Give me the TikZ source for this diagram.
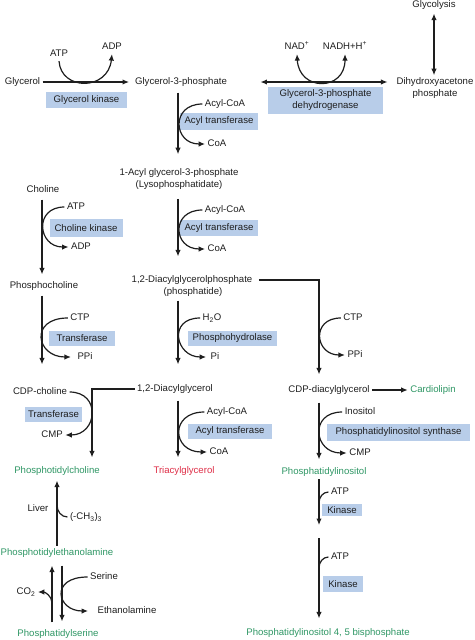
\documentclass[tikz,border=0pt]{standalone}
\usepackage{fontspec}
\setmainfont{Liberation Sans}
\usetikzlibrary{arrows.meta}
\definecolor{boxblue}{RGB}{184,205,233}
\definecolor{lipgreen}{RGB}{46,150,100}
\definecolor{lipred}{RGB}{222,45,70}
\definecolor{ink}{RGB}{30,30,30}
\newcommand{\diagfont}{\fontsize{9.6}{11.4}\selectfont}

\begin{document}
\begin{tikzpicture}[ -, x=1pt, y=-1pt, color=ink, line width=1.2pt,
                    main/.style = {font=\diagfont, text=ink, inner sep=2pt, text height=7pt, text depth=2pt},
                    two/.style = {font=\diagfont, text=ink, inner sep=2pt, align=center},
                    enz/.style = {font=\diagfont, text=ink, fill=boxblue, align=center, inner sep=0pt},
                    prod/.style = {main, text=lipgreen},
                    arr/.style = {-{Latex[length=6.5pt,width=5.5pt]}},
                    darr/.style = {{Latex[length=6.5pt,width=5.5pt]}-{Latex[length=6.5pt,width=5.5pt]}}]
\useasboundingbox (0,0) rectangle (474,640);
\coordinate (colA) at (42,0);
\coordinate (colB) at (178,0);
\coordinate (colC) at (319,0);
\coordinate (colD) at (92,0);
\coordinate (colL) at (52,0);
\coordinate (colR) at (62,0);
\coordinate (pip) at (319,531);
\coordinate (k1h) at (319,503);
\coordinate (k2h) at (319,568);
\coordinate (peh) at (57,505);
\coordinate (psh) at (52,603);
\node[main] (gly) at (22.5,82) {Glycerol};
\node[main] (g3p) at (181,82) {Glycerol-3-phosphate};
\node[two] (dhap) at (435,88) {Dihydroxyacetone\\phosphate};
\node[main] (glyc) at (434,5) {Glycolysis};
\node[main] (atp1) at (59,54) {ATP};
\node[main] (adp1) at (112,47) {ADP};
\node[enz, minimum width=81pt, minimum height=16pt] (gk) at (86.5,100) {Glycerol kinase};
\node[main] (nad) at (297,47) {NAD\textsuperscript{+}};
\node[main] (nadh) at (345,47) {NADH+H\textsuperscript{+}};
\node[enz, minimum width=115pt, minimum height=27pt] (gpdh) at (325.5,100) {Glycerol-3-phosphate\\dehydrogenase};
\node[main] (acoa1) at (225,104) {Acyl-CoA};
\node[enz, minimum width=78pt, minimum height=17pt] (at1) at (219,121) {Acyl transferase};
\node[main] (coa1) at (217,144) {CoA};
\node[two] (lyso) at (179,179) {1-Acyl glycerol-3-phosphate\\(Lysophosphatidate)};
\node[main] (acoa2) at (225,210) {Acyl-CoA};
\node[enz, minimum width=78pt, minimum height=16pt] (at2) at (219,228) {Acyl transferase};
\node[main] (coa2) at (217,249) {CoA};
\node[main] (pa) at (192,280) {1,2-Diacylglycerolphosphate};
\node[main] (pa2) at (193,292) {(phosphatide)};
\node[main] (h2o) at (212,318) {H\textsubscript{2}O};
\node[enz, minimum width=89pt, minimum height=15pt] (phh) at (232.5,338) {Phosphohydrolase};
\node[main] (pi1) at (215,357) {Pi};
\node[main] (dag) at (175,389) {1,2-Diacylglycerol};
\node[main] (acoa3) at (227,412) {Acyl-CoA};
\node[enz, minimum width=84pt, minimum height=15pt] (at3) at (230,431) {Acyl transferase};
\node[main] (coa3) at (219,452) {CoA};
\node[main, text=lipred] (tag) at (184,471) {Triacylglycerol};
\node[main] (cho) at (43,190) {Choline};
\node[main] (atp2) at (76,207) {ATP};
\node[enz, minimum width=73pt, minimum height=18pt] (ck) at (86,228) {Choline kinase};
\node[main] (adp2) at (81,247) {ADP};
\node[main] (phc) at (44,286) {Phosphocholine};
\node[main] (ctp1) at (80,318) {CTP};
\node[enz, minimum width=66pt, minimum height=15pt] (tf1) at (82,338) {Transferase};
\node[main] (ppi1) at (85,357) {PPi};
\node[main] (cdpc) at (40,392) {CDP-choline};
\node[enz, minimum width=57pt, minimum height=15pt] (tf2) at (53.5,414) {Transferase};
\node[main] (cmp1) at (52,435) {CMP};
\node[prod] (pc) at (57,471) {Phosphotidylcholine};
\node[main] (ctp2) at (353,318) {CTP};
\node[main] (ppi2) at (355,355) {PPi};
\node[main] (cdpdag) at (329,390) {CDP-diacylglycerol};
\node[prod] (card) at (433,390) {Cardiolipin};
\node[main] (inos) at (360,412) {Inositol};
\node[enz, minimum width=143pt, minimum height=17pt] (pis) at (398.5,432) {Phosphatidylinositol synthase};
\node[main] (cmp2) at (360,453) {CMP};
\node[prod] (pino) at (324,472) {Phosphatidylinositol};
\node[main] (atp3) at (340,492) {ATP};
\node[enz, minimum width=40pt, minimum height=12pt] (kin1) at (342,510) {Kinase};
\node[main] (atp4) at (340,557) {ATP};
\node[enz, minimum width=40pt, minimum height=16pt] (kin2) at (343,584) {Kinase};
\node[prod] (pip2) at (328,633) {Phosphatidylinositol 4, 5 bisphosphate};
\node[prod] (pe) at (57,553) {Phosphotidylethanolamine};
\node[main] (liver) at (38,509) {Liver};
\node[main] (ch3) at (86,517) {(-CH\textsubscript{3})\textsubscript{3}};
\node[main] (co2) at (26,592) {CO\textsubscript{2}};
\node[main] (ser) at (104,577) {Serine};
\node[main] (eth) at (127,611) {Ethanolamine};
\node[prod] (ps) at (58,634) {Phosphatidylserine};
\draw[arr, shorten >=3.5pt] (gly) -- (g3p);
\draw[arr] (atp1.south) .. controls (61,91) and (108,91) .. (adp1.south);
\draw[darr, shorten <=31pt, shorten >=6.5pt] (g3p.east) -- (dhap.west |- g3p.east);
\draw[darr] (nad.south) .. controls (299,91.5) and (345,91.5) .. (nadh.south);
\draw[darr, shorten <=1.5pt] (glyc) -- (dhap.north -| glyc);
\draw[arr, shorten <=3.5pt, shorten >=12pt] (g3p.south -| colB) -- (lyso.north -| colB);
\draw[arr] (acoa1.west) to[out=180, in=180, looseness=2.04] (coa1.west);
\draw[arr, shorten <=7pt, shorten >=16.5pt] (lyso.south -| colB) -- (pa.north -| colB);
\draw[arr] (acoa2.west) to[out=180, in=180, looseness=2.1] (coa2.west);
\draw[arr, shorten <=1.5pt, shorten >=17.5pt] (pa2.south -| colB) -- (dag.north -| colB);
\draw[arr, shorten >=2pt] (h2o.west) to[out=180, in=180, looseness=2.1] (pi1.west);
\draw[arr, shorten <=4.5pt, shorten >=6.5pt] (dag.south -| colB) -- (tag.north -| colB);
\draw[arr] (acoa3.west) to[out=180, in=180, looseness=2.24] (coa3.west);
\draw[arr, shorten <=2.5pt, shorten >=4.5pt] (cho.south -| colA) -- (phc.north -| colA);
\draw[arr] (atp2.west) to[out=180, in=180, looseness=1.96] (adp2.west);
\draw[arr, shorten <=2.5pt, shorten >=20.5pt] (phc.south -| colA) -- (cdpc.north -| colA);
\draw[arr, shorten >=4pt] (ctp1.west) to[out=180, in=180, looseness=2.5] (ppi1.west);
\draw[arr, shorten >=6.5pt] (dag.west) -| (pc.north -| colD);
\draw[arr] (cdpc.east) to[out=0, in=0, looseness=1.9] (cmp1.east);
\draw[arr, shorten <=4pt, shorten >=8.5pt] (pa.east) -| (cdpdag.north -| colC);
\draw[arr] (ctp2.west) to[out=180, in=180, looseness=2.07] (ppi2.west);
\draw[arr] (cdpdag) -- (card);
\draw[arr, shorten <=5.5pt, shorten >=5.5pt] (cdpdag.south -| colC) -- (pino.north -| colC);
\draw[arr] (inos.west) to[out=180, in=180, looseness=2.06] (cmp2.west);
\draw[arr, shorten >=6pt] (pino.south -| colC) -- (pip);
\draw[arr, shorten <=7pt, shorten >=7.5pt] (pip) -- (pip2.north -| colC);
\draw (atp3.west) to[out=180, in=90] (k1h);
\draw (atp4.west) to[out=180, in=90] (k2h);
\draw[arr, shorten >=2.5pt] (pe) -- (pc);
\draw (peh) to[out=-90, in=180] (ch3.west);
\draw[arr, shorten <=4.5pt, shorten >=5.5pt] (ps.north -| colL) -- (pe.south -| colL);
\draw[arr, shorten <=5.5pt, shorten >=5.5pt] (pe.south -| colR) -- (ps.north -| colR);
\draw[arr] (psh) to[out=90, in=0] (co2.east);
\draw[arr, shorten >=7pt] (ser.west) to[out=180, in=180, looseness=2.8] (eth.west);
\end{tikzpicture}
\end{document}
